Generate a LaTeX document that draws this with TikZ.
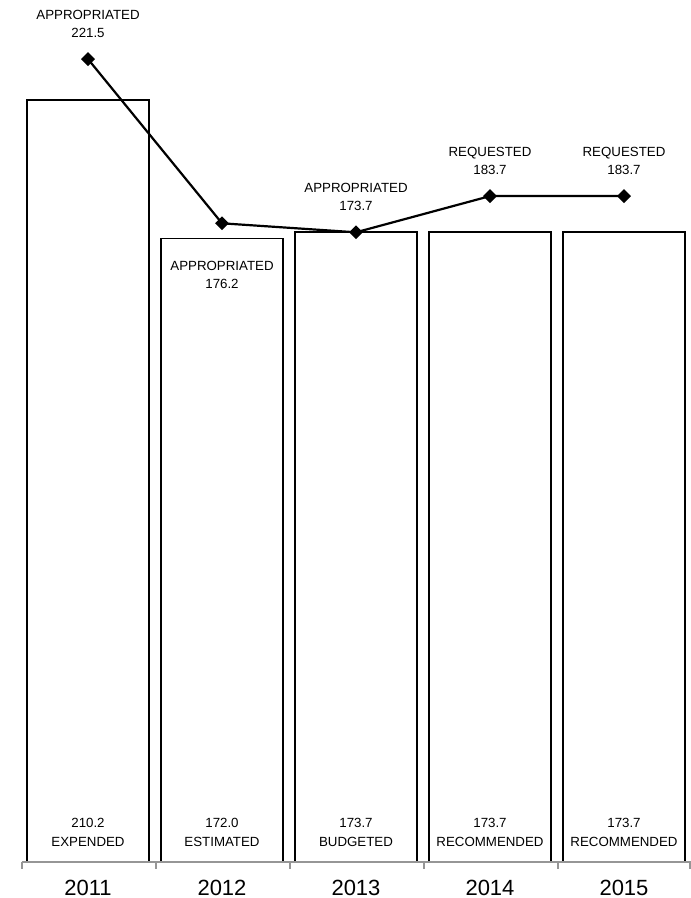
\documentclass[tikz,border=0pt]{standalone}
\usepackage{fontspec}
\setmainfont{Liberation Sans}
\usetikzlibrary{positioning, shapes.geometric}
\definecolor{axiscol}{RGB}{150, 150, 150}

\begin{document}
\begin{tikzpicture}[x=1pt, y=1pt,
      bar/.style={draw=black, line width=1.7pt},
      pt/.style={diamond, fill=black, inner sep=0pt, minimum width=14pt, minimum height=14pt},
      trend/.style={-, black, line width=2.2pt},
      lbl/.style={align=center, inner sep=0pt, font=\fontsize{13.3}{18.5}\selectfont},
      yr/.style={inner sep=0pt, font=\fontsize{22}{26}\selectfont},
      axis/.style={axiscol, line width=1.5pt}]

      \useasboundingbox (0,0) rectangle (691,898);

      % Barres (depenses)
      \draw[bar] (27,36) |- (149,797.9) -- (149,36);
      \draw[bar] (161,36) |- (283,659.5) -- (283,36);
      \draw[bar] (295,36) |- (417,665.7) -- (417,36);
      \draw[bar] (429,36) |- (551,665.7) -- (551,36);
      \draw[bar] (563,36) |- (685,665.7) -- (685,36);

      % Axe
      \draw[axis] (22,36) -- (691,36);
      \draw[axis] (22,36) -- (22,29);
      \draw[axis] (156,36) -- (156,29);
      \draw[axis] (290,36) -- (290,29);
      \draw[axis] (424,36) -- (424,29);
      \draw[axis] (558,36) -- (558,29);
      \draw[axis] (690,36) -- (690,29);

      % Valeurs des barres
      \node[lbl] (v1) at (88,65.5)  {210.2\\EXPENDED};
      \node[lbl] (v2) at (222,65.5) {172.0\\ESTIMATED};
      \node[lbl] (v3) at (356,65.5) {173.7\\BUDGETED};
      \node[lbl] (v4) at (490,65.5) {173.7\\RECOMMENDED};
      \node[lbl] (v5) at (624,65.5) {173.7\\RECOMMENDED};

      % Annees
      \node[yr] (y1) at (88,10.5)  {2011};
      \node[yr] (y2) at (222,10.5) {2012};
      \node[yr] (y3) at (356,10.5) {2013};
      \node[yr] (y4) at (490,10.5) {2014};
      \node[yr] (y5) at (624,10.5) {2015};

      % Courbe (credits)
      \node[pt] (d1) at (88,838.9)  {};
      \node[pt] (d2) at (222,674.7) {};
      \node[pt] (d3) at (356,665.7) {};
      \node[pt] (d4) at (490,701.9) {};
      \node[pt] (d5) at (624,701.9) {};
      \draw[trend] (d1.center) -- (d2.center) -- (d3.center) -- (d4.center) -- (d5.center);

      \node[lbl] (l1) at (88,874)  {APPROPRIATED\\221.5};
      \node[lbl] (l2) at (222,623) {APPROPRIATED\\176.2};
      \node[lbl] (l3) at (356,701) {APPROPRIATED\\173.7};
      \node[lbl] (l4) at (490,737) {REQUESTED\\183.7};
      \node[lbl] (l5) at (624,737) {REQUESTED\\183.7};
    \end{tikzpicture}
\end{document}
